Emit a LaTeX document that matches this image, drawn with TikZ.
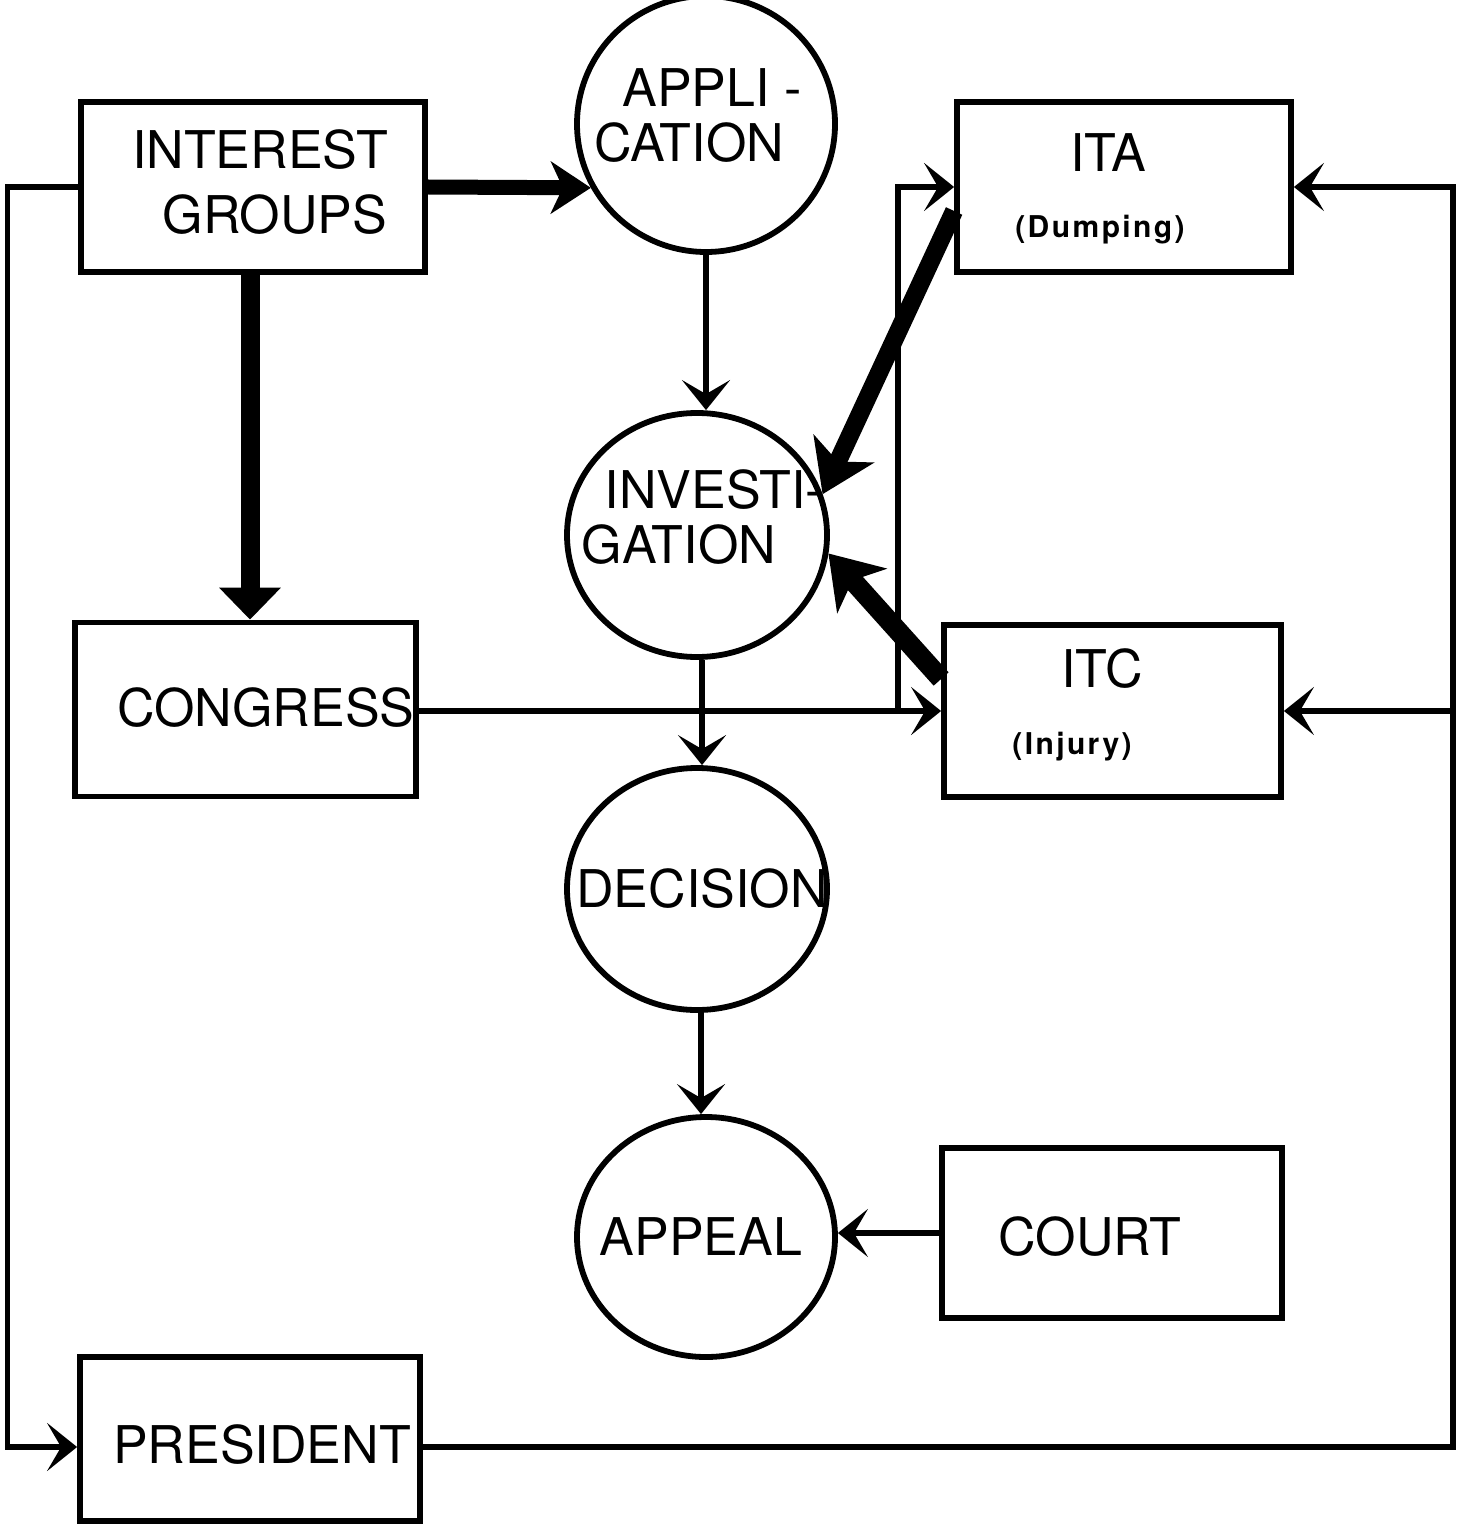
\documentclass[tikz,border=0pt]{standalone}
\usepackage{fontspec}
\setmainfont{TeX Gyre Heros}
\usetikzlibrary{arrows.meta,shapes.geometric,calc}
\begin{document}
\begin{tikzpicture}[x=0.5pt,y=-0.5pt,
  box/.style={draw,line width=2.9pt,rectangle,inner sep=0pt},
  circ/.style={draw,line width=2.9pt,ellipse,inner sep=0pt},
  lbl/.style={font=\fontsize{26}{30}\selectfont,anchor=base,inner sep=0pt},
  sub/.style={font=\fontsize{15}{17}\selectfont\bfseries\addfontfeature{LetterSpace=8},anchor=base,inner sep=0pt},
  conn/.style={line width=2.6pt,-{Stealth[length=15pt,width=24pt,inset=7pt]}},
  heavy/.style={line width=9pt,-{Stealth[length=25pt,width=33pt,inset=7pt]}},
]
\useasboundingbox (0,0) rectangle (1472,1524);

% boxes
\node[box,minimum width=172pt,minimum height=85pt] (IG) at (253,187) {};
\node[box,minimum width=167pt,minimum height=85pt] (ITA) at (1124,187) {};
\node[box,minimum width=168.5pt,minimum height=86pt] (ITC) at (1112.5,711) {};
\node[box,minimum width=170.5pt,minimum height=87pt] (CONG) at (245.5,709.5) {};
\node[box,minimum width=170pt,minimum height=85pt] (COURT) at (1112,1233) {};
\node[box,minimum width=170pt,minimum height=82pt] (PRES) at (250,1439) {};

% circles
\node[circ,minimum width=129pt,minimum height=128pt] (APPL) at (706,124) {};
\node[circ,minimum width=130pt,minimum height=122pt] (INV) at (697,535) {};
\node[circ,minimum width=130pt,minimum height=121pt] (DEC) at (697,889) {};
\node[circ,minimum width=129pt,minimum height=120pt] (APP) at (706,1237) {};

% labels
\node[lbl] (tIG1) at (260,169) {INTEREST};
\node[lbl] (tIG2) at (275,234) {GROUPS};
\node[lbl] (tAP1) at (712,107) {APPLI -};
\node[lbl] (tAP2) at (689,162) {CATION};
\node[lbl] (tIN1) at (714,508) {INVESTI-};
\node[lbl] (tIN2) at (679,563) {GATION};
\node[lbl] (tDE) at (702,907) {DECISION};
\node[lbl] (tAPP) at (701,1255) {APPEAL};
\node[lbl] (tCO) at (1090,1255) {COURT};
\node[lbl] (tITA) at (1108,172) {ITA};
\node[sub] (tDu) at (1100,238) {(Dumping)};
\node[lbl] (tITC) at (1102,687) {ITC};
\node[sub] (tIn) at (1072,754) {(Injury)};
\node[lbl] (tCG) at (266,726) {CONGRESS};
\node[lbl] (tPR) at (262,1463) {PRESIDENT};

% coordinates
\coordinate (J) at (898,711);
\coordinate (RT) at (1453,187);

% thick arrows
\draw[line width=7.5pt,-{Stealth[length=20pt,width=26pt,inset=6pt]}] (IG.east) -- (APPL.209);
\draw[line width=9.5pt,-{Triangle[length=16pt,width=30pt]}] ([xshift=-1.5pt]IG.south) -- ([xshift=-1.5pt]IG.south |- CONG.north);
\draw[heavy] ([yshift=-12pt]ITA.west) -- (INV.18);
\draw[heavy,line width=10pt] ([yshift=16pt]ITC.west) -- (INV.-8);

% thin connectors
\draw[conn] (IG.west) -- ++(-71,0) |- ([yshift=-4pt]PRES.west);
\draw[conn] (APPL.south) -- (APPL.south |- INV.north);
\draw[conn] ([xshift=2.5pt]INV.south) -- ([xshift=2.5pt]INV.south |- DEC.north);
\draw[conn] ([xshift=2pt]DEC.south) -- ([xshift=2pt]DEC.south |- APP.north);
\draw[conn] (COURT.west) -- (COURT.west -| APP.east);
\draw[conn] (CONG.east |- ITC.west) -- (ITC.west);
\draw[conn] (J) |- (ITA.west);
\draw[conn] ([yshift=-4pt]PRES.east) -| (RT) -- (ITA.east);
\draw[conn] (RT |- ITC.east) -- (ITC.east);
\end{tikzpicture}
\end{document}
